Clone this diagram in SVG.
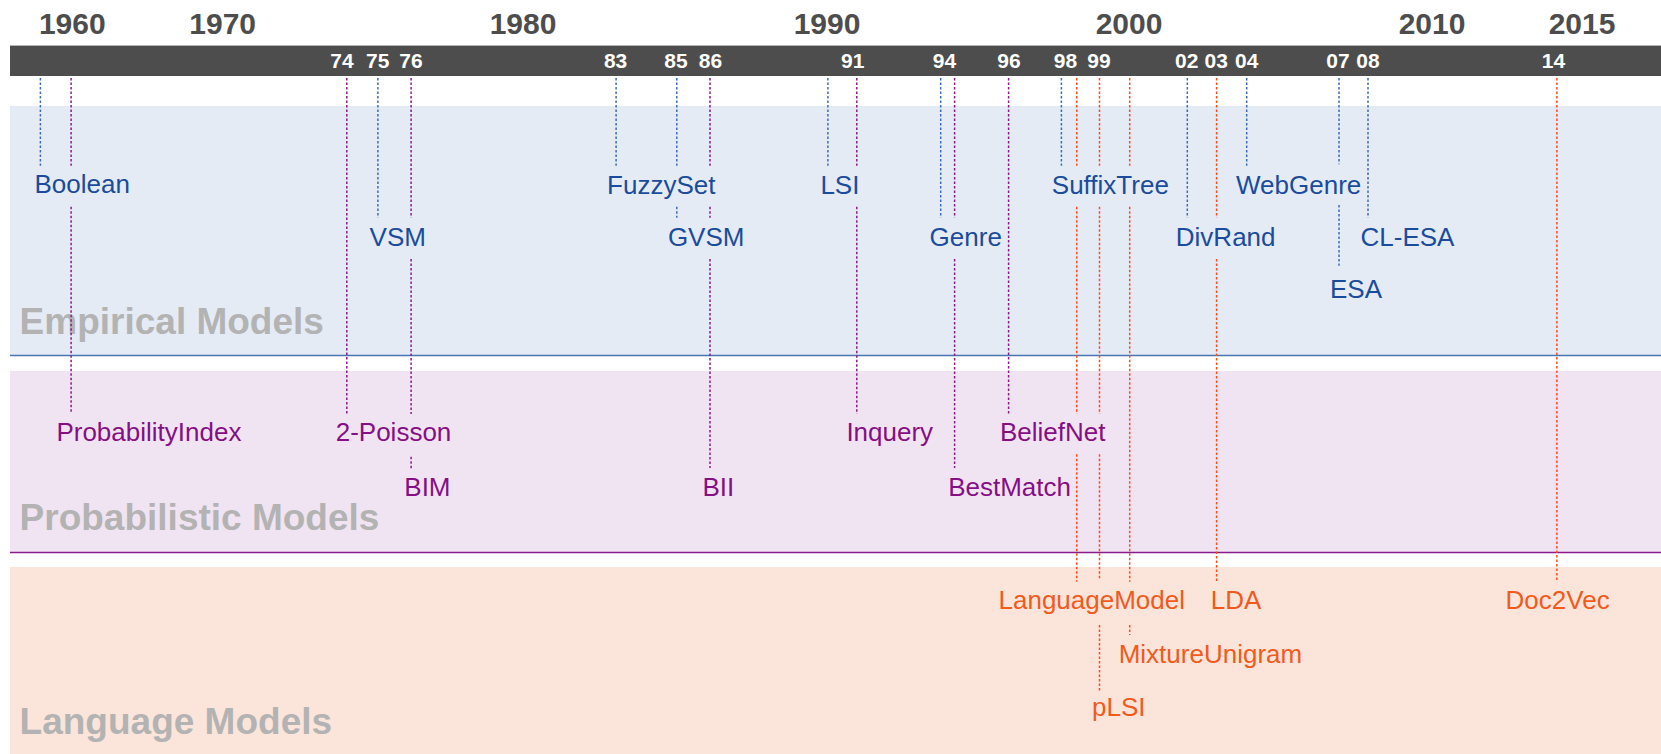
<svg xmlns="http://www.w3.org/2000/svg" width="1661" height="754" viewBox="0 0 1661 754">
<style>
text{font-family:"Liberation Sans",Arial,Helvetica,sans-serif}
.yr{font-size:30px;font-weight:bold;fill:#4d4d4d;text-anchor:middle}
.sy{font-size:21px;font-weight:bold;fill:#ffffff;text-anchor:middle}
.cat{font-size:37px;font-weight:bold;fill:#b3b3b3}
.e{font-size:26px;fill:#1b4c9c}
.p{font-size:26px;fill:#850f85}
.l{font-size:26px;fill:#f25a1c}
.ce,.cp,.cl{stroke-width:1.5;stroke-dasharray:2.5 2;fill:none}
.ce{stroke:#3d6cb5}
.cp{stroke:#8b1a8b}
.cl{stroke:#ff4a1a}
</style>
<rect width="1661" height="754" fill="#ffffff"/>
<g id="bands">
<rect x="10" y="106" width="1651" height="249.5" fill="#e4ebf5"/>
<line x1="10" y1="355.5" x2="1661" y2="355.5" stroke="#4a75b5" stroke-width="1.5"/>
<rect x="10" y="371" width="1651" height="181" fill="#f1e4f2"/>
<line x1="10" y1="552.5" x2="1661" y2="552.5" stroke="#8b1a8b" stroke-width="1.5"/>
<rect x="10" y="567" width="1651" height="187" fill="#fbe5da"/>
<text class="cat" x="19.6" y="333.5">Empirical Models</text>
<text class="cat" x="19.6" y="529.5">Probabilistic Models</text>
<text class="cat" x="19.6" y="734">Language Models</text>
</g>
<g id="timeline">
<line x1="10" y1="45.5" x2="1661" y2="45.5" stroke="#b5b5b5" stroke-width="1"/>
<rect x="10" y="46" width="1651" height="30" fill="#4d4d4d"/>
<text class="yr" x="72.3" y="33.5">1960</text>
<text class="yr" x="222.7" y="33.5">1970</text>
<text class="yr" x="523" y="33.5">1980</text>
<text class="yr" x="827" y="33.5">1990</text>
<text class="yr" x="1129" y="33.5">2000</text>
<text class="yr" x="1432" y="33.5">2010</text>
<text class="yr" x="1582" y="33.5">2015</text>
<text class="sy" x="342" y="68">74</text>
<text class="sy" x="377.7" y="68">75</text>
<text class="sy" x="411" y="68">76</text>
<text class="sy" x="615.6" y="68">83</text>
<text class="sy" x="676" y="68">85</text>
<text class="sy" x="710.5" y="68">86</text>
<text class="sy" x="852.7" y="68">91</text>
<text class="sy" x="944.5" y="68">94</text>
<text class="sy" x="1009" y="68">96</text>
<text class="sy" x="1065.5" y="68">98</text>
<text class="sy" x="1099" y="68">99</text>
<text class="sy" x="1186.8" y="68">02</text>
<text class="sy" x="1216.2" y="68">03</text>
<text class="sy" x="1246.7" y="68">04</text>
<text class="sy" x="1338" y="68">07</text>
<text class="sy" x="1368" y="68">08</text>
<text class="sy" x="1553.5" y="68">14</text>
</g>
<g id="connectors">
<path class="ce" d="M40.4 78V165.7"/>
<path class="cp" d="M71.1 78V165.7M71.1 206.7V412"/>
<path class="cp" d="M346.8 78V414"/>
<path class="ce" d="M377.9 78V217.7"/>
<path class="cp" d="M411.1 78V217.7M411.1 259V414M411.1 456.7V469"/>
<path class="ce" d="M616.1 78V165.7"/>
<path class="ce" d="M676.8 78V165.7M676.8 206.7V217.7"/>
<path class="cp" d="M710 78V165.7M710 206.7V217.7M710 259V468"/>
<path class="ce" d="M827.9 78V165.7"/>
<path class="cp" d="M856.8 78V165.7M856.8 206.7V414"/>
<path class="ce" d="M940.7 78V217.7"/>
<path class="cp" d="M954.6 78V217.7M954.6 259V468"/>
<path class="cp" d="M1008.6 78V414"/>
<path class="ce" d="M1061.4 78V165.7"/>
<path class="cl" d="M1076.8 78V165.7M1076.8 206.7V414M1076.8 454.3V581.7"/>
<path class="cl" d="M1099.5 78V165.7M1099.5 206.7V414M1099.5 454.3V580M1099.5 625V691.7"/>
<path class="cl" d="M1129.7 78V165.7M1129.7 206.7V581.7M1129.7 625V635"/>
<path class="ce" d="M1187.3 78V217.7"/>
<path class="cl" d="M1216.6 78V217.7M1216.6 259V582"/>
<path class="ce" d="M1246.7 78V165.7"/>
<path class="ce" d="M1339 78V164.3M1339 205V265.7"/>
<path class="ce" d="M1368 78V217.7"/>
<path class="cl" d="M1556.9 78V582"/>
</g>
<g id="node-boolean"><text class="e" x="34.5" y="193">Boolean</text></g>
<g id="node-vsm"><text class="e" x="369.6" y="246">VSM</text></g>
<g id="node-fuzzyset"><text class="e" x="607.1" y="193.5">FuzzySet</text></g>
<g id="node-gvsm"><text class="e" x="667.9" y="246">GVSM</text></g>
<g id="node-lsi"><text class="e" x="820.4" y="193.5">LSI</text></g>
<g id="node-genre"><text class="e" x="929.6" y="246">Genre</text></g>
<g id="node-suffixtree"><text class="e" x="1051.8" y="193.5">SuffixTree</text></g>
<g id="node-divrand"><text class="e" x="1175.8" y="246">DivRand</text></g>
<g id="node-webgenre"><text class="e" x="1236" y="193.5">WebGenre</text></g>
<g id="node-esa"><text class="e" x="1330" y="297.5">ESA</text></g>
<g id="node-clesa"><text class="e" x="1360.5" y="246">CL-ESA</text></g>
<g id="node-probabilityindex"><text class="p" x="56.4" y="441">ProbabilityIndex</text></g>
<g id="node-2poisson"><text class="p" x="335.7" y="441">2-Poisson</text></g>
<g id="node-bim"><text class="p" x="404.3" y="495.5">BIM</text></g>
<g id="node-bii"><text class="p" x="702.5" y="495.5">BII</text></g>
<g id="node-inquery"><text class="p" x="846.4" y="441">Inquery</text></g>
<g id="node-bestmatch"><text class="p" x="948.2" y="495.5">BestMatch</text></g>
<g id="node-beliefnet"><text class="p" x="1000" y="441">BeliefNet</text></g>
<g id="node-languagemodel"><text class="l" x="998.5" y="609">LanguageModel</text></g>
<g id="node-plsi"><text class="l" x="1092" y="716">pLSI</text></g>
<g id="node-mixtureunigram"><text class="l" x="1118.7" y="663">MixtureUnigram</text></g>
<g id="node-lda"><text class="l" x="1210.8" y="609">LDA</text></g>
<g id="node-doc2vec"><text class="l" x="1505.6" y="609">Doc2Vec</text></g>
</svg>
